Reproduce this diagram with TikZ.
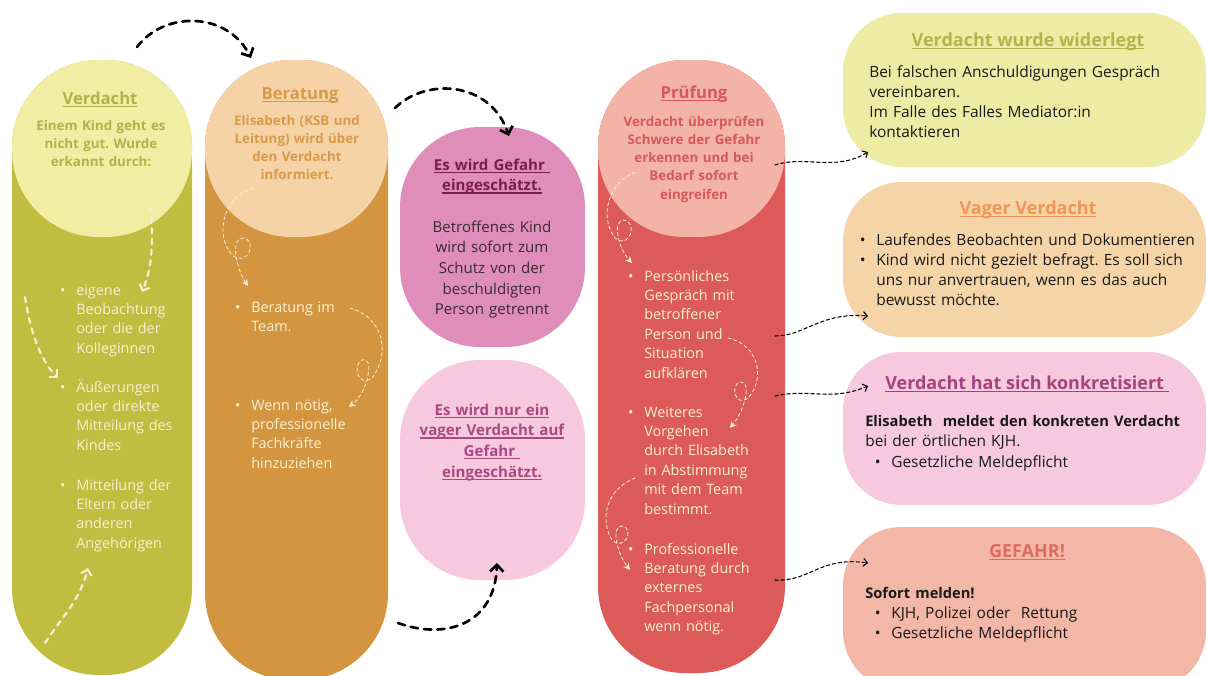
\documentclass[tikz,border=0pt]{standalone}
\usepackage{fontspec}
\setmainfont{Open Sans}
\usetikzlibrary{arrows.meta}

\definecolor{vgDark}{HTML}{C1BD41}
\definecolor{vgLight}{HTML}{F1EDA3}
\definecolor{vgTitle}{HTML}{B0B34A}
\definecolor{beDark}{HTML}{D39540}
\definecolor{beLight}{HTML}{F5D3A6}
\definecolor{beTitle}{HTML}{D89A4A}
\definecolor{prDark}{HTML}{DC5A58}
\definecolor{prLight}{HTML}{F3B3A6}
\definecolor{prTitle}{HTML}{D5585A}
\definecolor{pkA}{HTML}{DF8EBA}
\definecolor{pkATitle}{HTML}{7A1D4C}
\definecolor{pkAText}{HTML}{3B2A33}
\definecolor{pkB}{HTML}{F7C9DE}
\definecolor{pkBTitle}{HTML}{A94882}
\definecolor{cream}{HTML}{F7F1D2}
\definecolor{rA}{HTML}{EEEBA4}
\definecolor{rATitle}{HTML}{B3B54A}
\definecolor{rB}{HTML}{F5D4A8}
\definecolor{rBTitle}{HTML}{EF9556}
\definecolor{rC}{HTML}{F6C9DF}
\definecolor{rCTitle}{HTML}{A54380}
\definecolor{rD}{HTML}{F3B7A7}
\definecolor{rDTitle}{HTML}{E06A60}

\frenchspacing
\newsavebox\ulbox
\newcommand{\undl}[1]{\leavevmode\sbox\ulbox{#1}\rlap{\rule[-2.3pt]{\wd\ulbox}{1pt}}\usebox\ulbox}
\newcommand{\bl}{\leavevmode\llap{\textbullet\hspace{8pt}}}

\begin{document}
\begin{tikzpicture}[x=0.75pt,y=-0.75pt,line cap=round,line join=round,
  col/.style={rounded corners=65pt},
  pbox/.style={rounded corners=60pt},
  rbox/.style={rounded corners=44pt},
  ttl/.style={inner sep=0pt,anchor=base,font=\bfseries\fontsize{12.5}{15}\selectfont},
  hd/.style={inner sep=0pt,anchor=base,align=center,text width=135pt,font=\bfseries\fontsize{10}{13.5}\selectfont},
  itm/.style={inner sep=0pt,anchor=base west,align=left,text width=110pt,text=cream,font=\fontsize{10.8}{14.6}\selectfont},
  ptxt/.style={inner sep=0pt,anchor=base,align=center,text width=135pt,font=\fontsize{11.3}{15.5}\selectfont},
  rttl/.style={inner sep=0pt,anchor=base,font=\bfseries\fontsize{13.5}{16}\selectfont},
  rtx/.style={inner sep=0pt,anchor=base west,align=left,text width=260pt,text=black!90,font=\fontsize{11.6}{15.2}\selectfont},
  bigarr/.style={black,line width=2pt,dash pattern=on 5.5pt off 4.5pt,-{Straight Barb[length=5pt,width=10pt,line width=2pt]}},
  smallarr/.style={black,line width=0.8pt,dash pattern=on 2.5pt off 2pt,-{Straight Barb[length=3pt,width=6pt,line width=0.8pt]}},
  wthick/.style={cream,line width=1.6pt,dash pattern=on 4pt off 4pt,-{Straight Barb[length=4pt,width=8pt,line width=1.6pt]}},
  wloop/.style={cream,line width=0.6pt,dash pattern=on 2.5pt off 2pt,-{Stealth[length=5pt,width=5pt]}}]

  \useasboundingbox (0,0) rectangle (1207,675);
  \clip (0,0) rectangle (1207,675);

  % Columns
  \fill[vgDark,col] (12,60) rectangle (192,675);
  \fill[vgLight,col] (12,60) rectangle (192,237);
  \fill[beDark,col] (205,60) rectangle (388,680);
  \fill[beLight,col] (205,60) rectangle (388,237);
  \fill[prDark,col] (598,60) rectangle (785,673);
  \fill[prLight,col] (598,60) rectangle (785,237);

  % Pink boxes
  \fill[pkA,pbox] (400,127) rectangle (585,347);
  \fill[pkB,pbox] (400,360) rectangle (585,580);

  % Boxes on the right
  \fill[rA,rbox] (843,13) rectangle (1206,167);
  \fill[rB,rbox] (843,182) rectangle (1206,337);
  \fill[rC,rbox] (843,352) rectangle (1206,505);
  \fill[rD,rbox] (843,527) rectangle (1206,690);

  % Verdacht
  \node[ttl,text=vgTitle] (vdTitle) at (100,104) {\undl{Verdacht}};
  \node[hd,text=vgTitle] (vdText) at (101,130) {Einem Kind geht es\\nicht gut. Wurde\\erkannt durch:};
  \node[itm] (vdA) at (76,295) {\bl eigene\\Beobachtung\\oder die der\\Kolleginnen};
  \node[itm] (vdB) at (76,392) {\bl Äußerungen\\oder direkte\\Mitteilung des\\Kindes};
  \node[itm] (vdC) at (76,490) {\bl Mitteilung der\\Eltern oder\\anderen\\Angehörigen};

  % Beratung
  \node[ttl,text=beTitle] (beTitle) at (300,99) {\undl{Beratung}};
  \node[hd,text=beTitle] (beText) at (297,125) {Elisabeth (KSB und\\Leitung) wird über\\den Verdacht\\informiert.};
  \node[itm] (beA) at (251,312) {\bl Beratung im\\Team.};
  \node[itm] (beB) at (251,410) {\bl Wenn nötig,\\professionelle\\Fachkräfte\\hinzuziehen};

  % Gefahr eingeschaetzt
  \node[ptxt,text=pkATitle,font=\bfseries\fontsize{11.3}{15.5}\selectfont] (gfTitle) at (492,170) {\undl{Es wird Gefahr\ }\\\undl{eingeschätzt.}};
  \node[ptxt,text=pkAText] (gfText) at (492,232) {Betroffenes Kind\\wird sofort zum\\Schutz von der\\beschuldigten\\Person getrennt};
  \node[ptxt,text=pkBTitle,font=\bfseries\fontsize{11.3}{15.5}\selectfont] (vgTitle) at (492,415) {\undl{Es wird nur ein}\\\undl{vager Verdacht auf}\\\undl{Gefahr\ }\\\undl{eingeschätzt.}};

  % Pruefung
  \node[ttl,text=prTitle] (prTitle) at (694,98) {\undl{Prüfung}};
  \node[hd,text=prTitle,font=\bfseries\fontsize{10}{13.7}\selectfont] (prText) at (694,126) {Verdacht überprüfen\\Schwere der Gefahr\\erkennen und bei\\Bedarf sofort\\eingreifen};
  \node[itm] (prA) at (644,281) {\bl Persönliches\\Gespräch mit\\betroffener\\Person und\\Situation\\aufklären};
  \node[itm] (prB) at (644,417) {\bl Weiteres\\Vorgehen\\durch Elisabeth\\in Abstimmung\\mit dem Team\\bestimmt.};
  \node[itm] (prC) at (644,554) {\bl Professionelle\\Beratung durch\\externes\\Fachpersonal\\wenn nötig.};

  % Right side texts
  \node[rttl,text=rATitle] (wdTitle) at (1028,46) {\undl{Verdacht wurde widerlegt}};
  \node[rtx] (wdText) at (869,77) {Bei falschen Anschuldigungen Gespräch\\vereinbaren.\\Im Falle des Falles Mediator:in\\kontaktieren};
  \node[rttl,text=rBTitle] (vvTitle) at (1028,214) {\undl{Vager Verdacht}};
  \node[rtx] (vvText) at (876,245) {\bl Laufendes Beobachten und Dokumentieren\\\bl Kind wird nicht gezielt befragt. Es soll sich\\uns nur anvertrauen, wenn es das auch\\bewusst möchte.};
  \node[rttl,text=rCTitle] (kkTitle) at (1027,389) {\undl{Verdacht hat sich konkretisiert\ }};
  \node[rtx] (kkText) at (865,426) {{\bfseries\fontsize{11}{15.2}\selectfont Elisabeth\ \ meldet den konkreten Verdacht}\\bei der örtlichen KJH.};
  \node[rtx] (kkItem) at (891,467) {\bl Gesetzliche Meldepflicht};
  \node[rttl,text=rDTitle] (gfrTitle) at (1027,557) {\undl{GEFAHR!}};
  \node[rtx] (gfrText) at (865,598) {{\bfseries\fontsize{11}{15.2}\selectfont Sofort melden!}};
  \node[rtx] (gfrItems) at (891,618) {\bl KJH, Polizei oder\ \ Rettung\\\bl Gesetzliche Meldepflicht};

  % Black arrows between the columns
  \coordinate (k1s) at (137,47);
  \coordinate (k1e) at (251,58);
  \coordinate (k2s) at (395,108);
  \coordinate (k2e) at (509,136);
  \coordinate (k3s) at (398,623);
  \coordinate (k3e) at (497,563);
  \draw[bigarr] (k1s) .. controls (165,10) and (228,12) .. (k1e);
  \draw[bigarr] (k2s) .. controls (425,78) and (490,80) .. (k2e);
  \draw[bigarr] (k3s) .. controls (445,640) and (495,625) .. (k3e);

  % Connectors to the right boxes
  \coordinate (c1s) at (775,165);
  \coordinate (c1e) at (868,152);
  \coordinate (c2s) at (775,336);
  \coordinate (c2e) at (868,316);
  \coordinate (c3s) at (775,396);
  \coordinate (c3e) at (868,386);
  \coordinate (c4s) at (775,580);
  \coordinate (c4e) at (868,563);
  \draw[smallarr] (c1s) .. controls (805,155) and (835,172) .. (c1e);
  \draw[smallarr] (c2s) .. controls (805,336) and (820,312) .. (c2e);
  \draw[smallarr] (c3s) .. controls (810,388) and (830,402) .. (c3e);
  \draw[smallarr] (c4s) .. controls (810,582) and (820,556) .. (c4e);

  % White arrows inside the columns
  \draw[wthick] (150,207) .. controls (154,240) and (152,268) .. (142,292);
  \draw[wthick] (25,297) .. controls (30,330) and (40,360) .. (58,378);
  \draw[wthick] (45,643) .. controls (60,620) and (80,600) .. (88,568);
  \draw[wloop] (253,188) .. controls (222,198) and (215,235) .. (232,255) .. controls (248,268) and (258,240) .. (243,238) .. controls (230,238) and (236,268) .. (248,286);
  \draw[wloop] (350,308) .. controls (385,318) and (390,355) .. (372,378) .. controls (358,388) and (352,365) .. (362,360) .. controls (375,356) and (368,392) .. (349,407);
  \draw[wloop] (635,172) .. controls (610,182) and (598,215) .. (615,238) .. controls (630,250) and (638,222) .. (624,220) .. controls (612,220) and (618,248) .. (632,263);
  \draw[wloop] (728,338) .. controls (760,345) and (765,380) .. (748,398) .. controls (735,408) and (730,385) .. (740,382) .. controls (752,380) and (745,410) .. (730,428);
  \draw[wloop] (635,478) .. controls (605,490) and (600,520) .. (612,540) .. controls (625,552) and (635,528) .. (622,526) .. controls (610,526) and (618,555) .. (630,570);
\end{tikzpicture}
\end{document}
